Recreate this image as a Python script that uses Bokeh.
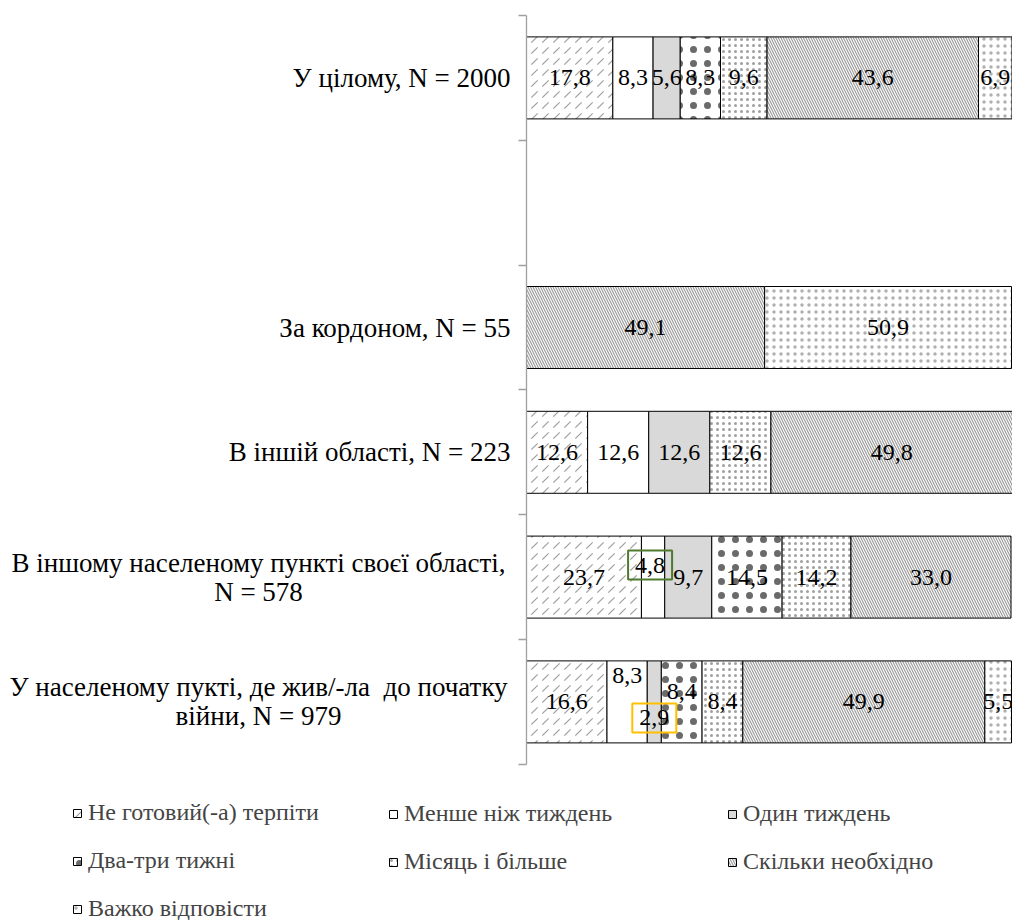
from bokeh.plotting import figure
from bokeh.models import (Range1d, FixedTicker, Label, Legend, LegendItem,
                          ColumnDataSource, LinearAxis)
from bokeh.embed import file_html
from bokeh.resources import INLINE

# ---------------- data ----------------
categories = [
    "У цілому, N = 2000",
    "",
    "За кордоном, N = 55",
    "В іншій області, N = 223",
    "В іншому населеному пункті своєї області,\nN = 578",
    "У населеному пукті, де жив/-ла  до початку\nвійни, N = 979",
]
series_names = [
    "Не готовий(-а) терпіти",
    "Менше ніж тиждень",
    "Один тиждень",
    "Два-три тижні",
    "Місяць і більше",
    "Скільки необхідно",
    "Важко відповісти",
]
ne_gotovyi = [17.8, 0, 0, 12.6, 23.7, 16.6]
menshe_tyzhden = [8.3, 0, 0, 12.6, 4.8, 8.3]
odyn_tyzhden = [5.6, 0, 0, 12.6, 9.7, 2.9]
dva_try_tyzhni = [8.3, 0, 0, 0, 14.5, 8.4]
misyats_i_bilshe = [9.6, 0, 0, 12.6, 14.2, 8.4]
skilky_neobkhidno = [43.6, 0, 49.1, 49.8, 33.0, 49.9]
vazhko_vidpovisty = [6.9, 0, 50.9, 0, 0, 5.5]

series_values = [ne_gotovyi, menshe_tyzhden, odyn_tyzhden, dva_try_tyzhni,
                 misyats_i_bilshe, skilky_neobkhidno, vazhko_vidpovisty]

# ---------------- styles ----------------
fills = ["white", "white", "#d9d9d9", "white", "white", "white", "white"]
hatches = [",", None, None, ".", ".", "\\", "."]
hatch_colors = ["#a0a0a0", None, None, "#6a6a6a", "#a0a0a0", "#9c9c9c", "#b0b0b0"]
hatch_scales = [11, 12, 12, 14, 6, 5, 7]
hatch_weights = [1.2, 1, 1, 0.3, 1, 1.2, 1]

FONT = "Liberation Serif"
W, H = 1012, 920           # canvas
X0, PXU = 526, 4.85        # page x of the value axis, px per percent
Y_TOP, SLOT = 15, 124.8    # page y of the axis top, px per category slot
n = len(categories)
ycent = [n - 0.5 - i for i in range(n)]
BAR_H = 0.657

p = figure(width=W, height=H,
           x_range=Range1d(-X0 / PXU, (W - X0) / PXU),
           y_range=Range1d(-(H - Y_TOP - n * SLOT) / SLOT, n + Y_TOP / SLOT),
           x_axis_type=None, y_axis_type=None,
           output_backend="svg", toolbar_location=None, min_border=0)
p.outline_line_color = None
p.background_fill_color = "white"
p.border_fill_color = "white"

yax = LinearAxis(fixed_location=0, bounds=(0, n),
                 ticker=FixedTicker(ticks=list(range(n + 1))),
                 major_label_overrides={i: "" for i in range(n + 1)})
yax.major_tick_in = 0
yax.major_tick_out = 8
yax.minor_tick_in = 0
yax.minor_tick_out = 0
yax.axis_line_color = "#a0a0a0"
yax.major_tick_line_color = "#a0a0a0"
yax.axis_line_width = 1.3
yax.major_tick_line_width = 1.3
p.add_layout(yax, "left")

# ---------------- bars ----------------
cum = [0.0] * n
renderers = []
label_specs = []
for si, vals in enumerate(series_values):
    ys, lefts, rights = [], [], []
    for ci, v in enumerate(vals):
        if v > 0:
            ys.append(ycent[ci])
            lefts.append(cum[ci])
            rights.append(cum[ci] + v)
            label_specs.append((ci, si, cum[ci] + v / 2, ycent[ci], v))
            cum[ci] += v
    src = ColumnDataSource(dict(y=ys, left=lefts, right=rights))
    kw = dict(fill_color=fills[si], line_color="black", line_width=1)
    if hatches[si] is not None:
        kw.update(hatch_pattern=hatches[si], hatch_color=hatch_colors[si],
                  hatch_scale=hatch_scales[si], hatch_weight=hatch_weights[si])
    r = p.hbar(y="y", left="left", right="right", height=BAR_H, source=src, **kw)
    renderers.append(r)

# ---------------- value labels ----------------
adjust = {
    (4, 1): (-3, 12, "#4e7a2e"),
    (5, 1): (0, 26, None),
    (5, 2): (0, -16, "#ffc000"),
    (5, 3): (0, 10, None),
}
for ci, si, x, y, v in label_specs:
    dx, dy, bc = adjust.get((ci, si), (0, 0, None))
    lab = Label(x=x, y=y, x_offset=dx, y_offset=dy,
                text=f"{v:.1f}".replace(".", ","),
                text_align="center", text_baseline="middle",
                text_font=FONT, text_font_size="24px", text_color="black")
    if bc is not None:
        lab.border_line_color = bc
        lab.border_line_width = 2
        lab.padding = 7
    p.add_layout(lab)

# ---------------- category labels ----------------
CAT_SIZE = "27px"
for ci, cat in enumerate(categories):
    if not cat:
        continue
    lines = cat.replace("  ", " \u00a0").split("\n")
    if len(lines) == 1:
        p.add_layout(Label(x=0, y=ycent[ci], x_offset=-16, text=lines[0],
                           text_align="right", text_baseline="middle",
                           text_font=FONT, text_font_size=CAT_SIZE, text_color="black"))
    else:
        for li, line in enumerate(lines):
            off = 14.5 if li == 0 else -14.5
            p.add_layout(Label(x=0, y=ycent[ci], x_offset=-268, y_offset=off, text=line,
                               text_align="center", text_baseline="middle",
                               text_font=FONT, text_font_size=CAT_SIZE, text_color="black"))

# ---------------- legend (three columns) ----------------
col_x = [72, 388, 727]
ROW_H, ROW_GAP, LEG_TOP = 26, 21, 802
ncol = 3
for c in range(ncol):
    idx = list(range(c, len(series_names), ncol))
    items = [LegendItem(label=series_names[i], renderers=[renderers[i]]) for i in idx]
    bottom = LEG_TOP + len(idx) * ROW_H + (len(idx) - 1) * ROW_GAP
    leg = Legend(items=items, location=(col_x[c], H - bottom), orientation="vertical",
                 glyph_width=10, glyph_height=10, label_standoff=6,
                 label_height=ROW_H, spacing=ROW_GAP, padding=0, margin=0,
                 border_line_color=None, background_fill_alpha=0,
                 label_text_font=FONT, label_text_font_size="24px")
    p.add_layout(leg, "center")

open("out.html", "w").write(file_html(p, INLINE))
